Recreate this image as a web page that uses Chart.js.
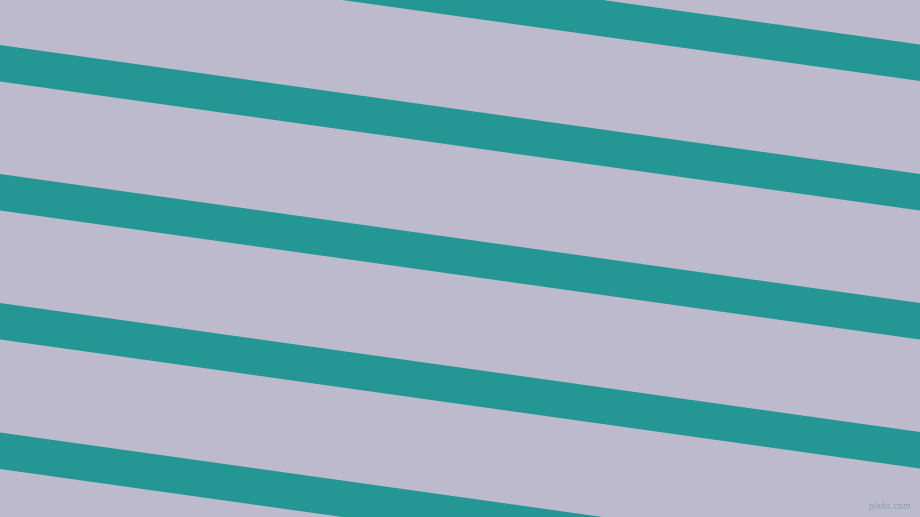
<!DOCTYPE html>
<html>
<head>
<meta charset="utf-8">
<script src="https://cdn.jsdelivr.net/npm/chart.js@4"></script>
<style>
  html, body { margin: 0; padding: 0; background: #bdbacd; }
  #wrap { position: relative; width: 920px; height: 517px; overflow: hidden; }
  #mark { position: absolute; right: 9px; bottom: 6px; font: 8px "DejaVu Sans", sans-serif; color: #87a0b2; letter-spacing: 0.2px; }
</style>
</head>
<body>
<div id="wrap">
  <canvas id="stripes"></canvas>
  <span id="mark">pixlis.com</span>
</div>
<script>
// Stripe edges (y in px from top) read at the left (x=0) and right (x=920) borders
const edgeX = [0, 920];
const topLeft = [-84.5, 45, 174, 303, 432.5];
const topRight = [44.5, 174, 303, 432, 561.5];
const bottomLeft = [-48, 81.5, 210.5, 339.5, 469];
const bottomRight = [81, 210.5, 339.5, 468.5, 598];

const stripeColor = '#249795';
const bgColor = '#bdbacd';

// Build one pair of line datasets per stripe, filled between them
const datasets = [];
topLeft.forEach((t, i) => {
    datasets.push({
        data: [{ x: edgeX[0], y: t }, { x: edgeX[1], y: topRight[i] }],
        borderWidth: 0,
        pointRadius: 0,
        backgroundColor: stripeColor,
        fill: '+1'
    });
    datasets.push({
        data: [{ x: edgeX[0], y: bottomLeft[i] }, { x: edgeX[1], y: bottomRight[i] }],
        borderWidth: 0,
        pointRadius: 0,
        fill: false
    });
});

const bgPlugin = {
    id: 'bg',
    beforeDraw(chart) {
        const ctx = chart.ctx;
        ctx.save();
        ctx.fillStyle = bgColor;
        ctx.fillRect(0, 0, chart.width, chart.height);
        ctx.restore();
    }
};

new Chart(document.getElementById('stripes'), {
    type: 'line',
    data: { datasets },
    options: {
        responsive: true,
        maintainAspectRatio: false,
        animation: false,
        layout: { padding: 0 },
        plugins: { legend: { display: false }, tooltip: { enabled: false } },
        scales: {
            x: { type: 'linear', min: 0, max: 920, display: false },
            y: { min: 0, max: 517, reverse: true, display: false }
        }
    },
    plugins: [bgPlugin]
});
</script>
</body>
</html>
